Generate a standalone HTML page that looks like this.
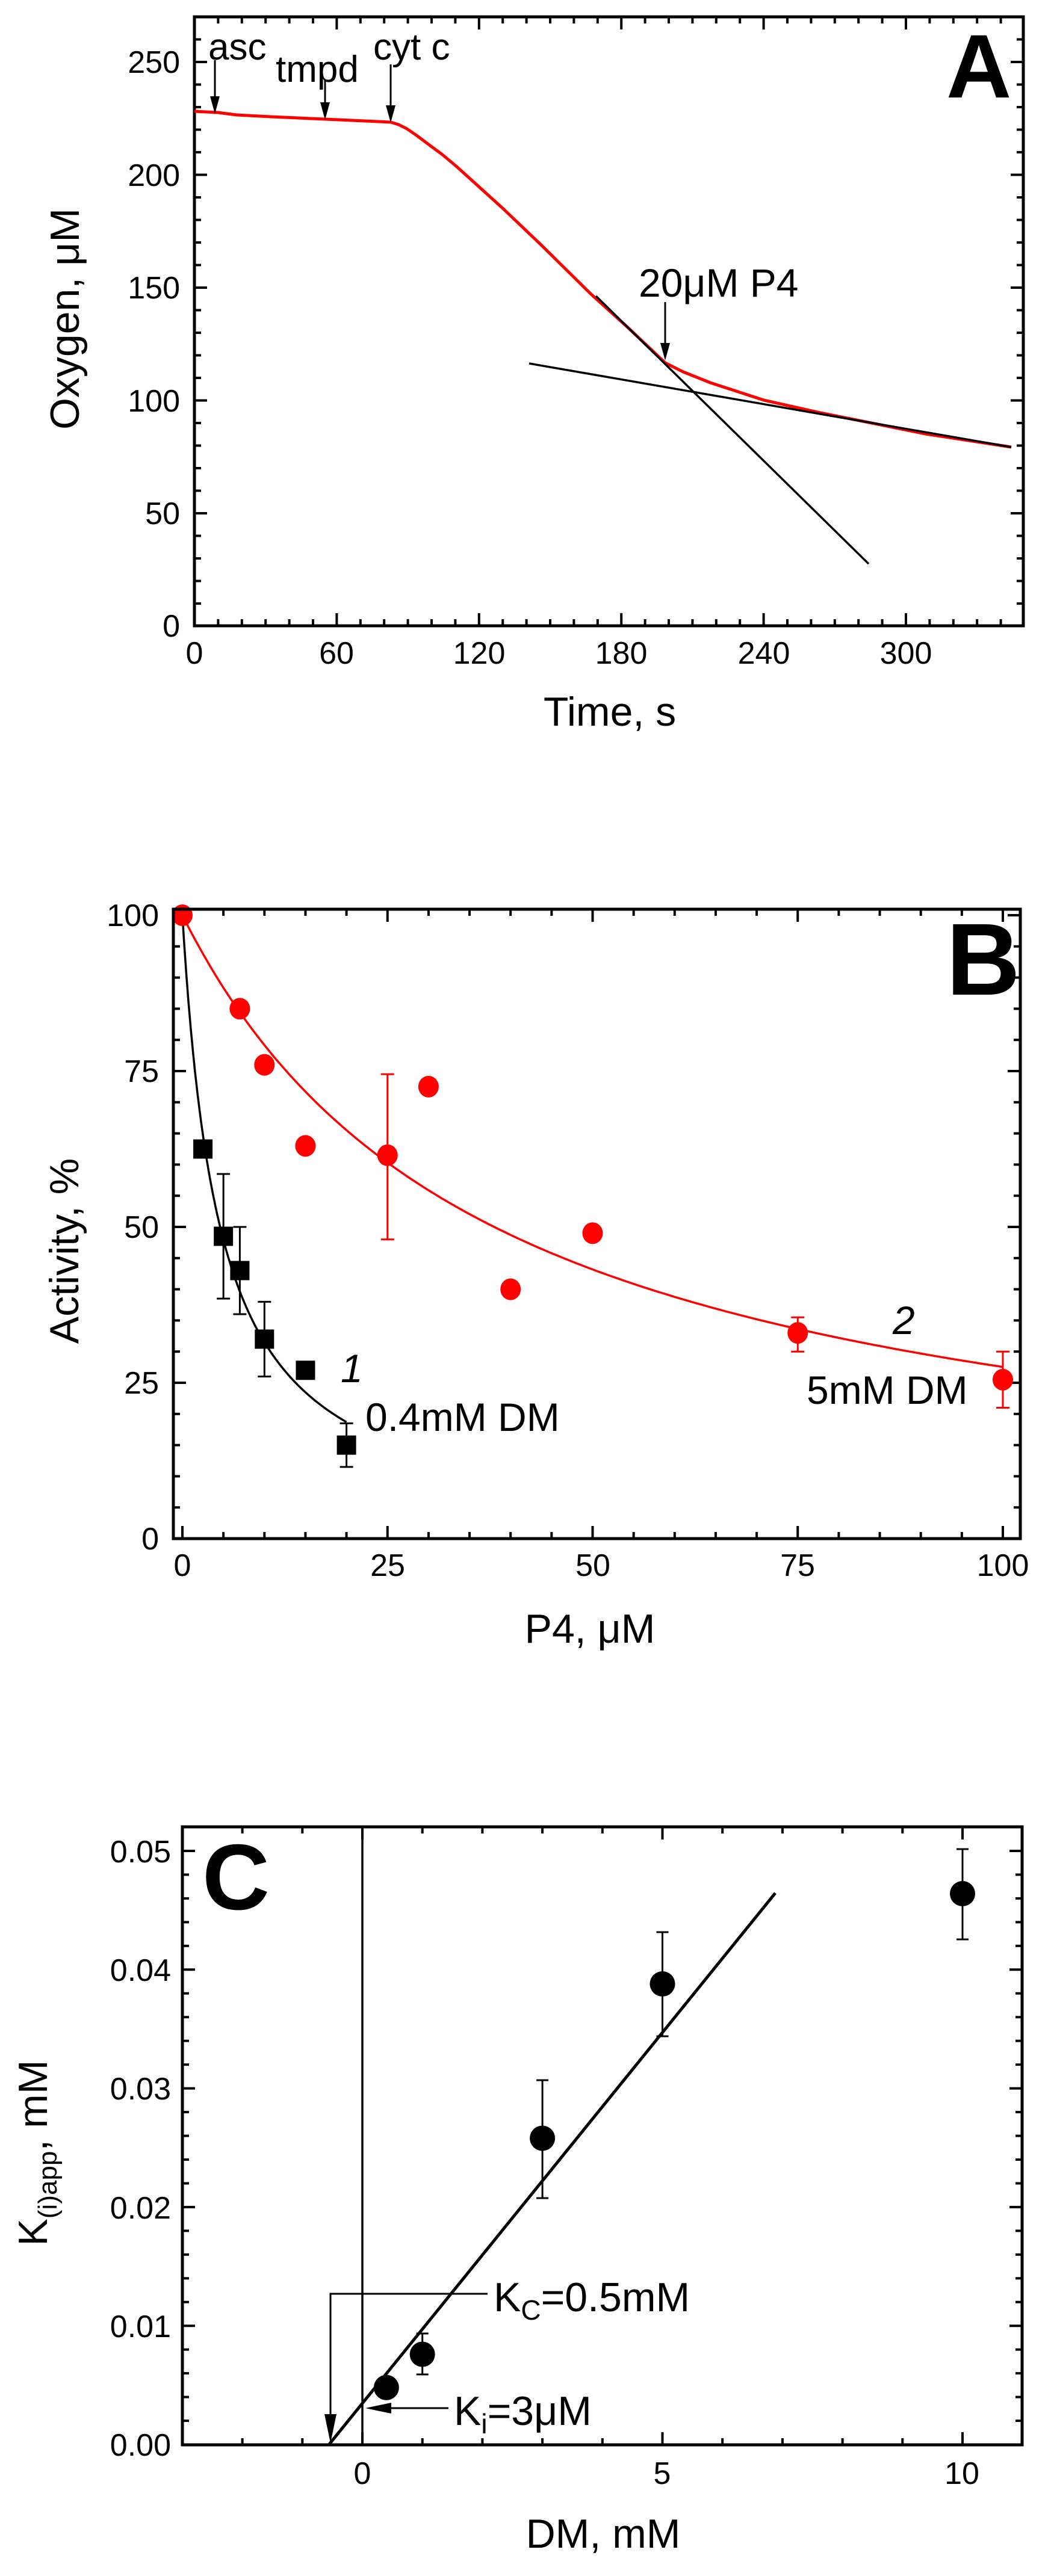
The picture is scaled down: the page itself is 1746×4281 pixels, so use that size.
<!DOCTYPE html>
<html><head><meta charset="utf-8"><style>
html,body{margin:0;padding:0;background:#fff;}
svg{display:block;}
text{font-family:"Liberation Sans",Arial,sans-serif;fill:#000;}
</style></head><body>
<svg id="s" xmlns="http://www.w3.org/2000/svg" width="1746" height="4281" viewBox="0 0 1746 4281">
<rect width="1746" height="4281" fill="#fff"/>
<g id="ticks" stroke="#000" stroke-width="4"></g>
<g id="plot"></g>

<!-- Panel A -->
<rect x="323" y="28" width="1377" height="1012" fill="none" stroke="#000" stroke-width="5"/>
<polyline fill="none" stroke="#ff0000" stroke-width="5" stroke-linejoin="round" points="323,185 362,187 393,191 450,194 540,198 649,203 662,207 676,214 692,225 712,240 735,257 760,278 835,346 900,408 981,488 1046,547 1105,603 1135,618 1180,636 1269,665 1358,685 1448,703 1537,721 1680,743"/>
<line x1="990" y1="492" x2="1443" y2="937" stroke="#000" stroke-width="3.5"/>
<line x1="879" y1="604" x2="1680" y2="743" stroke="#000" stroke-width="3.5"/>
<g stroke="#000" stroke-width="3">
<line x1="357" y1="100" x2="357" y2="175"/><line x1="540" y1="134" x2="540" y2="185"/><line x1="649" y1="107" x2="649" y2="190"/><line x1="1105" y1="502" x2="1105" y2="585"/>
</g>
<g fill="#000">
<polygon points="349,160 365,160 357,189"/><polygon points="532,170 548,170 540,199"/><polygon points="641,175 657,175 649,204"/><polygon points="1097,570 1113,570 1105,599"/>
</g>
<g font-size="62">
<text x="346" y="99">asc</text><text x="458" y="136">tmpd</text><text x="620" y="99">cyt c</text>
<text x="1061" y="493" font-size="66">20μM P4</text>
</g>
<text x="1572" y="162" font-size="150" font-weight="bold">A</text>
<g font-size="52" text-anchor="end">
<text x="299" y="1058">0</text><text x="299" y="871">50</text><text x="299" y="684">100</text><text x="299" y="496">150</text><text x="299" y="309">200</text><text x="299" y="121">250</text>
</g>
<g font-size="52" text-anchor="middle">
<text x="323" y="1103">0</text><text x="559" y="1103">60</text><text x="796" y="1103">120</text><text x="1032" y="1103">180</text><text x="1269" y="1103">240</text><text x="1505" y="1103">300</text>
</g>
<text x="1013" y="1206" font-size="68" text-anchor="middle">Time, s</text>
<text transform="translate(131,530) rotate(-90)" font-size="68" text-anchor="middle">Oxygen, μM</text>

<!-- Panel B -->
<rect x="288" y="1511" width="1407" height="1046" fill="none" stroke="#000" stroke-width="5"/>
<text x="1572" y="1653" font-size="170" font-weight="bold">B</text>
<g font-size="52" text-anchor="end">
<text x="264" y="2575">0</text><text x="264" y="2316">25</text><text x="264" y="2057">50</text><text x="264" y="1798">75</text><text x="264" y="1539">100</text>
</g>
<g font-size="52" text-anchor="middle">
<text x="303" y="2619">0</text><text x="644" y="2619">25</text><text x="985" y="2619">50</text><text x="1325" y="2619">75</text><text x="1666" y="2619">100</text>
</g>
<text x="980" y="2730" font-size="68" text-anchor="middle">P4, μM</text>
<text transform="translate(130,2079) rotate(-90)" font-size="68" text-anchor="middle">Activity, %</text>
<g font-size="66">
<text x="566" y="2297" font-style="italic">1</text>
<text x="607" y="2378">0.4mM DM</text>
<text x="1483" y="2217" font-style="italic">2</text>
<text x="1340" y="2333">5mM DM</text>
</g>

<!-- Panel C -->
<rect x="303" y="3036" width="1395" height="1027" fill="none" stroke="#000" stroke-width="5"/>
<line x1="602" y1="3036" x2="602" y2="4063" stroke="#000" stroke-width="3.5"/>
<line x1="547" y1="4062" x2="1288" y2="3146" stroke="#000" stroke-width="5"/>
<g stroke="#000" stroke-width="3" fill="none">
<polyline points="549,4040 549,3812 810,3812"/>
<line x1="620" y1="4002" x2="745" y2="4002"/>
</g>
<g fill="#000">
<polygon points="539,4012 559,4012 549,4060"/>
<polygon points="607,4002 650,3993 650,4011"/>
</g>
<text x="820" y="3841" font-size="68">K<tspan font-size="46" dy="14">C</tspan><tspan dy="-14">=0.5mM</tspan></text>
<text x="754" y="4030" font-size="68">K<tspan font-size="46" dy="14">i</tspan><tspan dy="-14">=3μM</tspan></text>
<text x="336" y="3173" font-size="155" font-weight="bold">C</text>
<g font-size="52" text-anchor="end">
<text x="284" y="4081">0.00</text><text x="284" y="3884">0.01</text><text x="284" y="3687">0.02</text><text x="284" y="3489">0.03</text><text x="284" y="3292">0.04</text><text x="284" y="3095">0.05</text>
</g>
<g font-size="52" text-anchor="middle">
<text x="602" y="4128">0</text><text x="1100" y="4128">5</text><text x="1598" y="4128">10</text>
</g>
<text x="1002" y="4234" font-size="68" text-anchor="middle">DM, mM</text>
<text transform="translate(78,3578) rotate(-90)" font-size="68" text-anchor="middle">K<tspan font-size="44" dy="16">(i)app</tspan><tspan dy="-16">, mM</tspan></text>
</svg>
<script>
(function(){
var NS='http://www.w3.org/2000/svg';
var tg=document.getElementById('ticks'), pg=document.getElementById('plot');
function el(p,n,a){var e=document.createElementNS(NS,n);for(var k in a)e.setAttribute(k,a[k]);p.appendChild(e);return e;}
function mult(v,m){var r=v/m;return Math.abs(r-Math.round(r))<1e-6;}
function panel(b,xa,ya){
  var v,p,len;
  for(v=xa.s;v<=xa.e+1e-9;v+=xa.st){p=xa.f(v);if(p<b.l+3||p>b.r-3)continue;len=mult(v,xa.m)?21:11;
    el(tg,'line',{x1:p,y1:b.b,x2:p,y2:b.b-len});el(tg,'line',{x1:p,y1:b.t,x2:p,y2:b.t+len});}
  for(v=ya.s;v<=ya.e+1e-9;v+=ya.st){p=ya.f(v);if(p<b.t+3||p>b.b-3)continue;len=mult(v,ya.m)?21:11;
    el(tg,'line',{x1:b.l,y1:p,x2:b.l+len,y2:p});el(tg,'line',{x1:b.r,y1:p,x2:b.r-len,y2:p});}
}
var XA=function(t){return 323+3.94*t;},YA=function(o){return 1040.5-3.75*o;};
panel({l:323,r:1700,t:28,b:1040},{s:0,e:350,st:10,m:60,f:XA},{s:0,e:270,st:10,m:50,f:YA});
var XB=function(p){return 303+13.63*p;},YB=function(a){return 2557-10.36*a;};
panel({l:288,r:1695,t:1511,b:2557},{s:0,e:100,st:5,m:25,f:XB},{s:0,e:100,st:5,m:25,f:YB});
var XC=function(d){return 602+99.7*d;},YC=function(k){return 4062.5-19730*k;};
panel({l:303,r:1698,t:3036,b:4063},{s:-3,e:11,st:1,m:5,f:XC},{s:0,e:0.052,st:0.002,m:0.01,f:YC});
function curve(ki,pmax,col){var pts=[];for(var i=0;i<=200;i++){var p=pmax*i/200;pts.push(XB(p).toFixed(1)+','+YB(100/(1+p/ki)).toFixed(1));}
  el(pg,'polyline',{points:pts.join(' '),fill:'none',stroke:col,'stroke-width':3.5});}
curve(38,100,'#ff0000');curve(4.6,20,'#000');
function ebar(x,y1,y2,col,w){el(pg,'line',{x1:x,y1:y1,x2:x,y2:y2,stroke:col,'stroke-width':3});
  el(pg,'line',{x1:x-w,y1:y1,x2:x+w,y2:y1,stroke:col,'stroke-width':3});el(pg,'line',{x1:x-w,y1:y2,x2:x+w,y2:y2,stroke:col,'stroke-width':3});}
[[25,48,74.5],[75,30,35.5],[100,21,30]].forEach(function(e){ebar(XB(e[0]),YB(e[1]),YB(e[2]),'#ff0000',11);});
[[0,100],[7,85],[10,76],[15,63],[25,61.5],[30,72.5],[40,40],[50,49],[75,33],[100,25.5]].forEach(function(d){
  el(pg,'ellipse',{cx:XB(d[0]),cy:YB(d[1]),rx:17,ry:18,fill:'#ff0000'});});
[[5,38.5,58.5],[7,36,50],[10,26,38],[20,11.5,18.5]].forEach(function(e){ebar(XB(e[0]),YB(e[1]),YB(e[2]),'#000',11);});
[[2.5,62.5],[5,48.5],[7,43],[10,32],[15,27],[20,15]].forEach(function(d){
  el(pg,'rect',{x:XB(d[0])-16,y:YB(d[1])-16,width:32,height:32,fill:'#000'});});
[[1,3878,3946],[3,3457,3653],[5,3211,3384],[10,3073,3223]].forEach(function(e){ebar(XC(e[0]),e[1],e[2],'#000',10);});
[[0.4,0.0048],[1,0.0076],[3,0.0258],[5,0.0388],[10,0.0464]].forEach(function(d){
  el(pg,'circle',{cx:XC(d[0]),cy:YC(d[1]),r:21,fill:'#000'});});
})();
</script>
</body></html>
